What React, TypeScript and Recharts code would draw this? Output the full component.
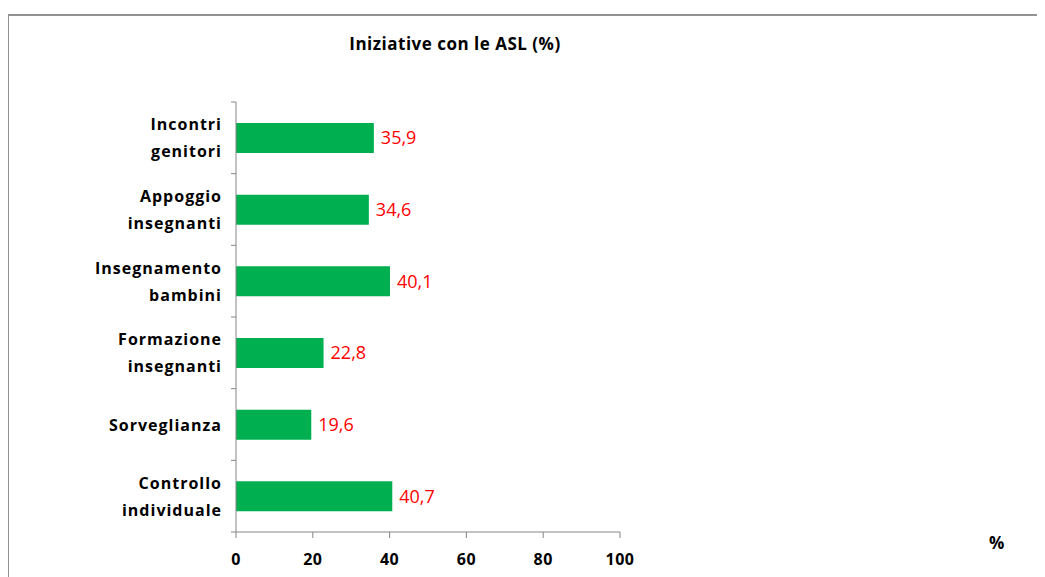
import { BarChart, Bar, XAxis, YAxis, LabelList } from "recharts"

const categories = [
  "Incontri\ngenitori",
  "Appoggio\ninsegnanti",
  "Insegnamento\nbambini",
  "Formazione\ninsegnanti",
  "Sorveglianza",
  "Controllo\nindividuale",
]
const values = [35.9, 34.6, 40.1, 22.8, 19.6, 40.7]
const xTicks = [0, 20, 40, 60, 80, 100]

const data = categories.map((name, i) => ({ name, value: values[i] }))

const FONT = "'Open Sans', sans-serif"
const AXIS_COLOR = "#868686"
const TICK_SIZE = 5
const TICK_MARGIN = 9
const LINE_H = 27
// plot height / number of categories, used for the boundary tick marks
const BAND = 430 / categories.length

const CategoryTick = (props: any) => {
  const { x, y, payload, index } = props
  const lines = String(payload.value).split("\n")
  const half = payload.offset || BAND / 2
  const lx1 = x + TICK_MARGIN
  const lx2 = lx1 + TICK_SIZE
  const first = -((lines.length - 1) / 2) * LINE_H
  return (
    <g>
      <line x1={lx1} x2={lx2} y1={y - half} y2={y - half} stroke={AXIS_COLOR} />
      {index === categories.length - 1 && (
        <line x1={lx1} x2={lx2} y1={y + half} y2={y + half} stroke={AXIS_COLOR} />
      )}
      <text
        x={x}
        y={y}
        textAnchor="end"
        fontFamily={FONT}
        fontWeight="bold"
        fontSize={16}
        letterSpacing={1}
        fill="#000"
      >
        {lines.map((l, i) => (
          <tspan key={i} x={x} dy={i === 0 ? first + 6 : LINE_H}>
            {l}
          </tspan>
        ))}
      </text>
    </g>
  )
}

export default function App() {
  return (
    <div style={{ position: "relative", width: 1037, height: 569 }}>
      <div
        style={{
          position: "absolute",
          left: -1,
          top: 6,
          width: 1040,
          height: 563,
          borderTop: "2px solid #929292",
          borderLeft: "2px solid #929292",
        }}
      />
      <div
        style={{
          position: "absolute",
          left: 0,
          width: 894,
          top: 24,
          textAlign: "center",
          fontFamily: FONT,
          fontWeight: "bold",
          fontSize: 17,
          letterSpacing: 0.5,
        }}
      >
        Iniziative con le ASL (%)
      </div>
      <div
        style={{
          position: "absolute",
          left: 981,
          top: 523,
          fontFamily: FONT,
          fontWeight: "bold",
          fontSize: 17,
        }}
      >
        %
      </div>
      <div style={{ position: "absolute", left: 0, top: 0 }}>
        <BarChart
          width={1037}
          height={569}
          data={data}
          layout="vertical"
          margin={{ top: 94, right: 425, bottom: 5, left: 0 }}
        >
          <XAxis
            type="number"
            domain={[0, 100]}
            ticks={xTicks}
            interval={0}
            height={40}
            stroke={AXIS_COLOR}
            tickSize={6}
            tickMargin={16}
            tick={{
              fill: "#000",
              fontFamily: FONT,
              fontWeight: "bold",
              fontSize: 16,
              letterSpacing: 0.5,
            }}
          />
          <YAxis
            type="category"
            dataKey="name"
            width={228}
            stroke={AXIS_COLOR}
            tickLine={false}
            tickSize={TICK_SIZE}
            tickMargin={TICK_MARGIN}
            interval={0}
            tick={<CategoryTick />}
          />
          <Bar dataKey="value" fill="#00B050" barSize={30} isAnimationActive={false}>
            <LabelList
              dataKey="value"
              position="right"
              offset={7}
              fill="#FF0000"
              fontFamily={FONT}
              fontSize={18}
              formatter={(v: any) => String(v).replace(".", ",")}
            />
          </Bar>
        </BarChart>
      </div>
    </div>
  )
}
